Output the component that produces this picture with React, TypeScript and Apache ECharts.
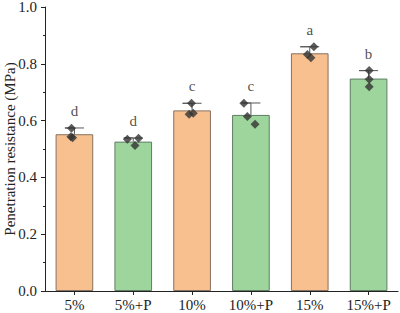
import React, { useEffect, useRef } from "react";
import * as echarts from "echarts";

const categories = ["5%", "5%+P", "10%", "10%+P", "15%", "15%+P"];
const means = [0.552, 0.526, 0.636, 0.62, 0.837, 0.748];
const sds = [0.022, 0.013, 0.025, 0.042, 0.023, 0.028];
const letters = ["d", "d", "c", "c", "a", "b"];
const barColors = ["#F8C08F", "#9DD59D", "#F8C08F", "#9DD59D", "#F8C08F", "#9DD59D"];
const borderColors = ["#86705f", "#5f7d62", "#86705f", "#5f7d62", "#86705f", "#5f7d62"];
// replicate points: [category index, jitter (category units), value]
const replicateIdx = [0, 0, 0, 1, 1, 1, 2, 2, 2, 3, 3, 3, 4, 4, 4, 5, 5, 5];
const replicateJitter = [-0.05, -0.06, -0.03, -0.1, 0.09, 0.03, -0.01, -0.05, 0.02, -0.12, -0.06, 0.07, 0.07, -0.04, 0.02, 0.01, 0.01, 0.01];
const replicateValues = [0.573, 0.543, 0.54, 0.534, 0.538, 0.512, 0.661, 0.622, 0.626, 0.661, 0.614, 0.587, 0.86, 0.833, 0.821, 0.776, 0.746, 0.719];
const yTicks = { min: 0, max: 1, interval: 0.2 };

const FONT = "'Liberation Serif', 'Times New Roman', serif";

export default function App() {
  const ref = useRef<HTMLDivElement>(null);
  useEffect(() => {
    if (!ref.current) return;
    const chart = echarts.init(ref.current, undefined, { renderer: "svg" });
    const scatterData = replicateIdx.map((c, i) => [c + replicateJitter[i], replicateValues[i]]);
    chart.setOption({
      animation: false,
      grid: { left: 45, right: 2, top: 7, bottom: 22, outerBoundsMode: "none", containLabel: false },
      xAxis: [
        {
          type: "category",
          data: categories,
          axisLine: { show: true, onZero: false, lineStyle: { color: "#222", width: 1 } },
          axisTick: { show: true, alignWithLabel: true, length: 4, lineStyle: { color: "#222" } },
          axisLabel: { interval: 0, fontFamily: FONT, fontSize: 15, color: "#222", margin: 6 },
          splitLine: { show: false },
        },
        {
          type: "value",
          min: -0.5,
          max: 5.5,
          show: false,
        },
      ],
      yAxis: {
        type: "value",
        min: yTicks.min,
        max: yTicks.max,
        interval: yTicks.interval,
        name: "Penetration resistance (MPa)",
        nameLocation: "middle",
        nameGap: 28,
        nameMoveOverlap: false,
        nameTextStyle: { fontFamily: FONT, fontSize: 15, color: "#222" },
        axisLine: { show: true, onZero: false, lineStyle: { color: "#222", width: 1 } },
        axisTick: { show: true, length: 4, lineStyle: { color: "#222" } },
        minorTick: { show: true, splitNumber: 2, length: 2, lineStyle: { color: "#222" } },
        axisLabel: {
          fontFamily: FONT,
          fontSize: 15,
          color: "#222",
          margin: 8,
          formatter: (v: number) => v.toFixed(1),
        },
        splitLine: { show: false },
      },
      series: [
        {
          type: "bar",
          xAxisIndex: 0,
          barWidth: "64%",
          data: means.map((m, i) => ({
            value: m,
            itemStyle: { color: barColors[i], borderColor: borderColors[i], borderWidth: 1 },
          })),
          z: 1,
        },
        {
          type: "custom",
          xAxisIndex: 0,
          encode: { x: 0, y: [1, 2] },
          data: means.map((m, i) => [i, m, m + sds[i]]),
          renderItem: (params: any, api: any) => {
            const i = params.dataIndex;
            const base = api.coord([i, means[i]]);
            const top = api.coord([i, means[i] + sds[i]]);
            const hw = 9.5;
            return {
              type: "polyline",
              shape: {
                points: [
                  [base[0], base[1]],
                  [top[0], top[1]],
                  [top[0] - hw, top[1]],
                  [top[0] + hw, top[1]],
                ],
              },
              style: { stroke: "#555", lineWidth: 1, fill: "none" },
            };
          },
          z: 2,
        },
        {
          type: "scatter",
          xAxisIndex: 0,
          symbol: "circle",
          symbolSize: 1,
          itemStyle: { color: "rgba(0,0,0,0)" },
          data: means.map((m, i) => [i, m + sds[i]]),
          label: {
            show: true,
            position: "inside",
            offset: [0, -17],
            formatter: (p: any) => letters[p.dataIndex],
            fontFamily: FONT,
            fontSize: 15,
            color: "#222",
          },
          z: 4,
        },
        {
          type: "scatter",
          xAxisIndex: 1,
          symbol: "diamond",
          symbolSize: 9,
          itemStyle: { color: "#333" },
          data: scatterData,
          z: 3,
        },
      ],
    });
    return () => chart.dispose();
  }, []);
  return (
    <div
      ref={ref}
      style={{ position: "fixed", left: 0, top: 0, width: 400, height: 313, background: "#fff" }}
    />
  );
}
